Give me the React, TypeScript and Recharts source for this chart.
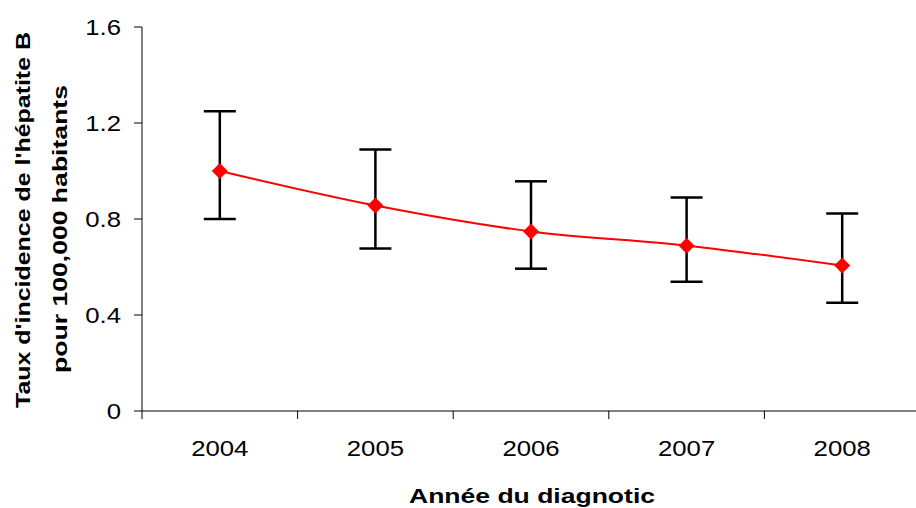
import { ErrorBar, Line, LineChart, XAxis, YAxis } from "recharts";

const years = ["2004", "2005", "2006", "2007", "2008"];
const rates = [1.0, 0.856, 0.748, 0.689, 0.606];
const lowerBounds = [0.8, 0.677, 0.593, 0.539, 0.451];
const upperBounds = [1.249, 1.09, 0.957, 0.89, 0.823];
const yTicks = [0, 0.4, 0.8, 1.2, 1.6];

const data = years.map((year, i) => ({
  year,
  rate: rates[i],
  err: [rates[i] - lowerBounds[i], upperBounds[i] - rates[i]],
}));

const W = 920;
const H = 508;
const LEFT = 142;
const AXIS_Y = 411;
const BAND = (W - LEFT) / years.length;
const FONT = "'Liberation Sans', Arial, sans-serif";
const SX = 1.17; // the reference text is a bit wider than plain Arial

function Diamond(props: any) {
  const { cx, cy } = props;
  if (cx == null || cy == null) return null;
  const r = 8;
  return (
    <polygon
      points={`${cx},${cy - r} ${cx + r},${cy} ${cx},${cy + r} ${cx - r},${cy}`}
      fill="#ff0000"
    />
  );
}

function YearTick(props: any) {
  const { x, y, payload, index } = props;
  return (
    <g>
      <line x1={x - BAND / 2} x2={x - BAND / 2} y1={AXIS_Y} y2={AXIS_Y + 8} stroke="#000" />
      {index === years.length - 1 && (
        <line x1={x + BAND / 2} x2={x + BAND / 2} y1={AXIS_Y} y2={AXIS_Y + 8} stroke="#000" />
      )}
      <text
        transform={`translate(${x}, ${y}) scale(${SX}, 1)`}
        dy="0.71em"
        textAnchor="middle"
        fontSize={22}
        fill="#000"
        fontFamily={FONT}
      >
        {payload.value}
      </text>
    </g>
  );
}

function RateTick(props: any) {
  const { x, y, payload } = props;
  const v = payload.value as number;
  return (
    <text
      transform={`translate(${x}, ${y}) scale(${SX}, 1)`}
      dy="0.355em"
      textAnchor="end"
      fontSize={22}
      fill="#000"
      fontFamily={FONT}
    >
      {v === 0 ? "0" : v.toFixed(1)}
    </text>
  );
}

export default function App() {
  return (
    <div
      style={{
        position: "fixed",
        left: 0,
        top: 0,
        width: 916,
        height: H,
        overflow: "hidden",
        background: "#fff",
      }}
    >
      <LineChart width={W} height={H} data={data} margin={{ top: 27, right: 0, bottom: 0, left: 0 }}>
        <XAxis
          dataKey="year"
          height={H - AXIS_Y}
          padding={{ left: BAND / 2, right: BAND / 2 }}
          tickLine={false}
          tickSize={8}
          tickMargin={21}
          axisLine={{ stroke: "#000" }}
          tick={<YearTick />}
          interval={0}
        />
        <YAxis
          width={LEFT}
          domain={[0, 1.6]}
          ticks={yTicks}
          tickSize={8}
          tickMargin={13}
          axisLine={{ stroke: "#000" }}
          tickLine={{ stroke: "#000" }}
          tick={<RateTick />}
        />
        <Line
          dataKey="rate"
          type="monotone"
          stroke="#ff0000"
          strokeWidth={2}
          dot={<Diamond />}
          activeDot={false}
          isAnimationActive={false}
        >
          <ErrorBar dataKey="err" width={16} stroke="#000" strokeWidth={2.5} isAnimationActive={false} />
        </Line>
        <text
          x={532}
          y={503}
          textAnchor="middle"
          fontSize={21}
          fontWeight="bold"
          fontFamily={FONT}
          fill="#000"
          textLength={246}
          lengthAdjust="spacingAndGlyphs"
        >
          Année du diagnotic
        </text>
        <text
          transform="translate(30, 220) rotate(-90)"
          textAnchor="middle"
          fontSize={21}
          fontWeight="bold"
          fontFamily={FONT}
          fill="#000"
          textLength={376}
          lengthAdjust="spacingAndGlyphs"
        >
          Taux d'incidence de l'hépatite B
        </text>
        <text
          transform="translate(67, 229) rotate(-90)"
          textAnchor="middle"
          fontSize={21}
          fontWeight="bold"
          fontFamily={FONT}
          fill="#000"
          textLength={288}
          lengthAdjust="spacingAndGlyphs"
        >
          pour 100,000 habitants
        </text>
      </LineChart>
    </div>
  );
}
